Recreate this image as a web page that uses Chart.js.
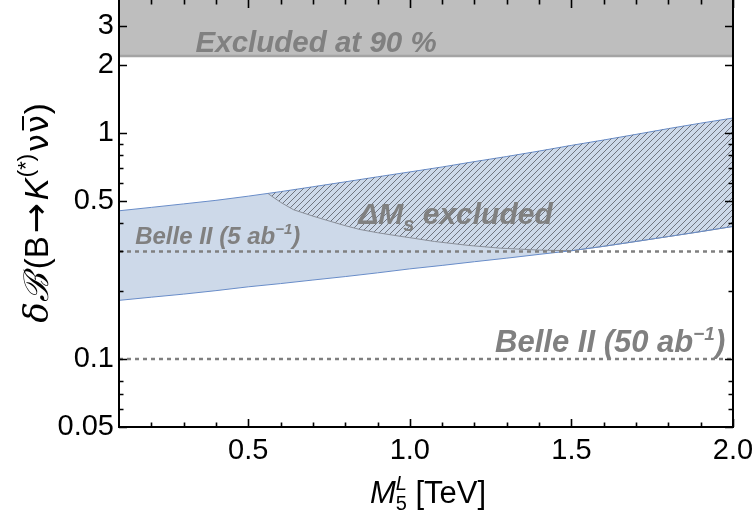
<!DOCTYPE html>
<html>
<head>
<meta charset="utf-8">
<script src="https://cdn.jsdelivr.net/npm/chart.js@4.4.1/dist/chart.umd.min.js"></script>
<style>
  html, body { margin: 0; padding: 0; background: #fff; }
</style>
</head>
<body>
<canvas id="bandChart" width="756" height="520"></canvas>
<script>
// M5L in TeV
const massGrid = [0.1, 0.2, 0.3, 0.4, 0.5, 0.6, 0.7, 0.8, 0.9, 1.0, 1.1, 1.2, 1.3, 1.4, 1.5, 1.6, 1.7, 1.8, 1.9, 2.0];
const bandLower = [0.182, 0.188, 0.194, 0.201, 0.209, 0.216, 0.224, 0.232, 0.241, 0.251, 0.260, 0.270, 0.280, 0.291, 0.302, 0.316, 0.332, 0.349, 0.367, 0.387];
const bandUpper = [0.454, 0.470, 0.487, 0.505, 0.527, 0.552, 0.580, 0.610, 0.642, 0.675, 0.710, 0.750, 0.790, 0.835, 0.885, 0.935, 0.990, 1.050, 1.110, 1.170];

// lower edge of the Delta M_s excluded (hatched) part
const dmsMass = [0.562, 0.6, 0.64, 0.7, 0.743, 0.8, 0.846, 0.9, 0.97, 1.0, 1.076, 1.18, 1.28, 1.4, 1.5, 1.6, 1.7, 1.8, 1.9, 2.0];
const dmsLower = [0.540, 0.495, 0.459, 0.430, 0.412, 0.390, 0.375, 0.363, 0.350, 0.345, 0.332, 0.319, 0.310, 0.304, 0.302, 0.316, 0.332, 0.349, 0.367, 0.387];

const excludedLimit = 2.2;   // 90% CL
const belle5 = 0.3;          // 5 ab^-1
const belle50 = 0.1;         // 50 ab^-1

const xMajorTicks = [0.5, 1.0, 1.5, 2.0];
const xMinorTicks = [0.2, 0.3, 0.4, 0.6, 0.7, 0.8, 0.9, 1.1, 1.2, 1.3, 1.4, 1.6, 1.7, 1.8, 1.9];
const yMajorTicks = [0.05, 0.1, 0.5, 1, 2, 3];
const yMinorTicks = [0.06, 0.07, 0.08, 0.2, 0.3, 0.4, 0.6, 0.7, 0.8, 0.9];

const toPoints = (xs, ys) => xs.map((x, i) => ({ x: x, y: ys[i] }));
const flatLine = (v) => [{ x: 0.1, y: v }, { x: 2.0, y: v }];

// diagonal hatch
function makeHatch() {
  const tile = document.createElement('canvas');
  tile.width = 6; tile.height = 6;
  const c = tile.getContext('2d');
  c.strokeStyle = '#5e636b';
  c.lineWidth = 0.85;
  c.beginPath();
  c.moveTo(0, 6); c.lineTo(6, 0);
  c.moveTo(-1, 1); c.lineTo(1, -1);
  c.moveTo(5, 7); c.lineTo(7, 5);
  c.stroke();
  return c.createPattern(tile, 'repeat');
}

const grey = '#808080';
const bi = (s) => 'italic bold ' + s + 'px "Liberation Sans", Arial, sans-serif';
const rg = (s) => s + 'px "Liberation Sans", Arial, sans-serif';
const it = (s) => 'italic ' + s + 'px "Liberation Sans", Arial, sans-serif';

// draws a row of text pieces; r.gap adds room after a piece
function drawRuns(ctx, runs, x, y, align) {
  let w = 0;
  runs.forEach(r => { ctx.font = r.font; r.w = ctx.measureText(r.text).width; w += r.w + (r.gap || 0); });
  let cx = align === 'center' ? x - w / 2 : (align === 'right' ? x - w : x);
  runs.forEach(r => {
    ctx.font = r.font;
    ctx.fillText(r.text, cx, y + (r.dy || 0));
    if (r.bar) {
      ctx.fillRect(cx + r.w * 0.15, y - r.bar, r.w * 0.8, 2);
    }
    cx += r.w + (r.gap || 0);
  });
  return w;
}

const labelsPlugin = {
  id: 'labels',
  afterDatasetsDraw(chart) {
    const ctx = chart.ctx;
    const xs = chart.scales.x, ys = chart.scales.y;
    ctx.save();
    ctx.fillStyle = grey;
    ctx.textBaseline = 'alphabetic';
    drawRuns(ctx, [{ text: 'Excluded at 90 %', font: bi(29.5) }],
      xs.getPixelForValue(0.71), ys.getPixelForValue(2.55) + 10, 'center');
    drawRuns(ctx, [
      { text: '\u0394M', font: bi(30) },
      { text: 's', font: bi(20), dy: 7 },
      { text: ' excluded', font: bi(30) }
    ], xs.getPixelForValue(0.84), ys.getPixelForValue(0.445) + 11, 'left');
    drawRuns(ctx, [
      { text: 'Belle II (5 ab', font: bi(24) },
      { text: '\u22121', font: bi(15), dy: -10 },
      { text: ')', font: bi(24) }
    ], xs.getPixelForValue(0.15), ys.getPixelForValue(0.35) + 8, 'left');
    drawRuns(ctx, [
      { text: 'Belle II (50 ab', font: bi(31) },
      { text: '\u22121', font: bi(19), dy: -12 },
      { text: ')', font: bi(31) }
    ], xs.getPixelForValue(1.976), ys.getPixelForValue(0.1197) + 11, 'right');
    ctx.restore();
  },
  afterDraw(chart) {
    const ctx = chart.ctx;
    const a = chart.chartArea;
    const xs = chart.scales.x, ys = chart.scales.y;
    ctx.save();
    // frame
    ctx.strokeStyle = '#000';
    ctx.lineWidth = 2;
    ctx.strokeRect(a.left, a.top - 1, a.right - a.left, a.bottom - a.top + 1);
    // inward ticks
    ctx.lineWidth = 1.6;
    ctx.beginPath();
    const xt = (v, len) => {
      const p = Math.round(xs.getPixelForValue(v)) + 0.5;
      ctx.moveTo(p, a.bottom); ctx.lineTo(p, a.bottom - len);
      ctx.moveTo(p, a.top); ctx.lineTo(p, a.top + len);
    };
    const yt = (v, len) => {
      const p = Math.round(ys.getPixelForValue(v)) + 0.5;
      ctx.moveTo(a.left, p); ctx.lineTo(a.left + len, p);
      ctx.moveTo(a.right, p); ctx.lineTo(a.right - len, p);
    };
    xMajorTicks.forEach(v => xt(v, 8));
    xMinorTicks.forEach(v => xt(v, 4.5));
    yMajorTicks.forEach(v => yt(v, 8));
    yMinorTicks.forEach(v => yt(v, 4.5));
    ctx.stroke();

    // x title: M_5^L [TeV]
    ctx.fillStyle = '#000';
    ctx.textBaseline = 'alphabetic';
    const fs = 31;
    const cxT = 428, base = 503;
    ctx.font = it(fs); const wM = ctx.measureText('M').width;
    ctx.font = rg(20); const w5 = ctx.measureText('5').width;
    ctx.font = rg(fs); const wRest = ctx.measureText(' [TeV]').width;
    const sx = cxT - (wM + w5 + wRest) / 2;
    ctx.font = it(fs); ctx.fillText('M', sx, base);
    ctx.font = rg(20); ctx.fillText('5', sx + wM, base + 7);
    ctx.font = it(20); ctx.fillText('L', sx + wM, base - 13);
    ctx.font = rg(fs); ctx.fillText(' [TeV]', sx + wM + w5, base);

    // y title
    ctx.translate(48, 213);
    ctx.rotate(-Math.PI / 2);
    drawRuns(ctx, [
      { text: '\u03B4\u212C', font: 'italic 34px "DejaVu Serif", "Liberation Serif", serif', gap: 5 },
      { text: '(B', font: rg(33), gap: 3 },
      { text: '\u2192', font: '36px "DejaVu Sans", sans-serif', gap: 3 },
      { text: 'K', font: it(33), gap: 1 },
      { text: '(*)', font: rg(22), dy: -15, gap: 2 },
      { text: '\u03BD', font: '32px "DejaVu Sans", sans-serif', gap: 1 },
      { text: '\u03BD', font: '32px "DejaVu Sans", sans-serif', bar: 26, gap: 1 },
      { text: ')', font: rg(33) }
    ], 0, 0, 'center');
    ctx.restore();
  }
};

const bandBlue = 'rgb(205, 217, 233)';
const edgeBlue = 'rgb(104, 140, 200)';

new Chart(document.getElementById('bandChart'), {
  type: 'line',
  data: {
    datasets: [
      { // 0: excluded at 90%
        data: flatLine(excludedLimit),
        borderColor: '#a4a4a4', borderWidth: 2.5,
        backgroundColor: '#bebebe', fill: 'end',
        pointRadius: 0, order: 6
      },
      { // 1: lower edge of band
        data: toPoints(massGrid, bandLower),
        borderColor: edgeBlue, borderWidth: 1,
        pointRadius: 0, fill: false, order: 1
      },
      { // 2: upper edge, band fill
        data: toPoints(massGrid, bandUpper),
        borderColor: edgeBlue, borderWidth: 1,
        backgroundColor: bandBlue, fill: 1,
        pointRadius: 0, order: 4
      },
      { // 3: Delta M_s excluded, hatched
        data: toPoints(dmsMass, dmsLower),
        borderColor: '#8a8f99', borderWidth: 1,
        backgroundColor: makeHatch(), fill: 2,
        pointRadius: 0, order: 3
      },
      { // 4: Belle II 5 ab^-1
        data: flatLine(belle5),
        borderColor: grey, borderWidth: 2.5, borderDash: [4, 4],
        pointRadius: 0, fill: false, order: 0
      },
      { // 5: Belle II 50 ab^-1
        data: flatLine(belle50),
        borderColor: grey, borderWidth: 2.5, borderDash: [4, 4],
        pointRadius: 0, fill: false, order: 0
      }
    ]
  },
  options: {
    responsive: false,
    animation: false,
    layout: { padding: { top: 0, right: 23, left: 0, bottom: 0 } },
    plugins: { legend: { display: false }, tooltip: { enabled: false } },
    scales: {
      x: {
        type: 'linear', min: 0.1, max: 2.0,
        afterBuildTicks: (s) => { s.ticks = xMajorTicks.map(v => ({ value: v })); },
        afterFit: (s) => { s.height = 93; s.paddingLeft = 0; s.paddingRight = 0; },
        ticks: {
          color: '#000', padding: 7, maxRotation: 0, autoSkip: false,
          font: { family: '"Liberation Sans", Arial, sans-serif', size: 29 },
          callback: (v) => Number(v).toFixed(1)
        },
        grid: { display: false, drawTicks: false },
        border: { display: false }
      },
      y: {
        type: 'logarithmic', min: 0.05, max: 3.9,
        afterBuildTicks: (s) => { s.ticks = yMajorTicks.map(v => ({ value: v })); },
        afterFit: (s) => { s.width = 119; s.paddingTop = 0; s.paddingBottom = 0; },
        ticks: {
          color: '#000', padding: 5, autoSkip: false,
          font: { family: '"Liberation Sans", Arial, sans-serif', size: 29 },
          callback: (v) => String(v)
        },
        grid: { display: false, drawTicks: false },
        border: { display: false }
      }
    }
  },
  plugins: [labelsPlugin]
});
</script>
</body>
</html>
